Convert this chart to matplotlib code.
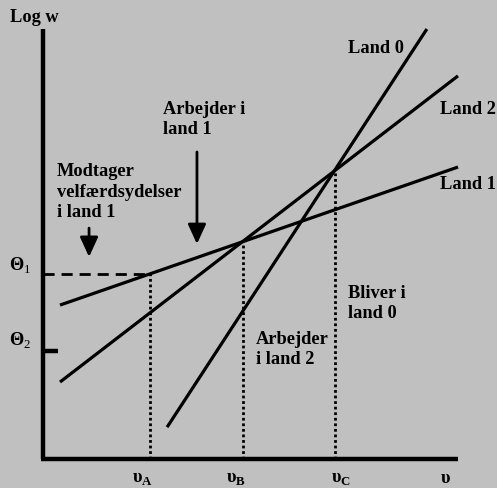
import matplotlib
matplotlib.use("Agg")
import matplotlib.pyplot as plt
import numpy as np

plt.rcParams['font.family'] = ['Liberation Serif', 'DejaVu Serif']
plt.rcParams['mathtext.fontset'] = 'custom'
plt.rcParams['mathtext.rm'] = 'Liberation Serif'
plt.rcParams['mathtext.bf'] = 'Liberation Serif:bold'

BG = '#c0c0c0'

# ---- data (abstract units: axes run 0..10) ----
line_names = ['Land 1', 'Land 2', 'Land 0']
line_x0 = [0.41, 0.41, 2.99]
line_y0 = [3.58, 1.79, 0.74]
line_x1 = [10.0, 10.0, 9.25]
line_y1 = [6.79, 8.91, 10.0]

thresholds = [2.58, 4.82, 7.04]          # vA, vB, vC
threshold_tops = [4.30, 5.05, 6.74]       # where dotted lines end
theta1 = 4.30
theta2 = 2.51

xtick_labels = ['υ$_\\mathbf{A}$', 'υ$_\\mathbf{B}$', 'υ$_\\mathbf{C}$', 'υ']
xtick_pos = [2.39, 4.65, 7.18, 9.69]

fig = plt.figure(figsize=(4.97, 4.89), dpi=100, facecolor=BG)
ax = fig.add_axes([0, 0, 1, 1])
ax.set_facecolor(BG)
ax.set_xlim(-1.036, 10.94)
ax.set_ylim(-0.674, 10.698)
ax.axis('off')

# axes lines
ax.plot([0, 0], [0, 10], color='black', lw=3.2, solid_capstyle='butt')
ax.plot([-0.04, 10], [0, 0], color='black', lw=3.2, solid_capstyle='butt')

# wage lines
for x0, y0, x1, y1 in zip(line_x0, line_y0, line_x1, line_y1):
    ax.plot([x0, x1], [y0, y1], color='black', lw=2.3, solid_capstyle='butt')

# dotted verticals
for xv, yt in zip(thresholds, threshold_tops):
    ax.plot([xv, xv], [0, yt], color='black', lw=2.0, linestyle=(0, (1, 1)))

# dashed theta1
ax.plot([0, thresholds[0]], [theta1, theta1], color='black', lw=2.0,
        linestyle=(0, (4, 2.5)))
# theta2 tick
ax.plot([0, 0.36], [theta2, theta2], color='black', lw=3.2, solid_capstyle='butt')

fs = 13.2
tk = dict(color='black', fontsize=fs, fontweight='bold')
ls = 1.25

ax.text(-0.22, 10.30, 'Log w', ha='center', va='center', **tk)
ax.text(-0.55, 4.53, 'Θ$_1$', ha='center', va='center', **tk)
ax.text(-0.55, 2.78, 'Θ$_2$', ha='center', va='center', **tk)

for lbl, xp in zip(xtick_labels, xtick_pos):
    ax.text(xp, -0.44, lbl, ha='center', va='center', **tk)

ax.text(7.35, 9.58, 'Land 0', ha='left', va='center', **tk)
ax.text(9.57, 8.14, 'Land 2', ha='left', va='center', **tk)
ax.text(9.57, 6.40, 'Land 1', ha='left', va='center', **tk)

ax.text(2.89, 7.92, 'Arbejder i\nland 1', ha='left', va='center',
        multialignment='left', linespacing=ls, **tk)
ax.text(0.34, 6.23, 'Modtager\nvelfærdsydelser\ni land 1', ha='left',
        va='center', multialignment='left', linespacing=ls, **tk)
ax.text(7.35, 3.64, 'Bliver i\nland 0', ha='left', va='center',
        multialignment='left', linespacing=ls, **tk)
ax.text(5.13, 2.57, 'Arbejder\ni land 2', ha='left', va='center',
        multialignment='left', linespacing=ls, **tk)

# arrows
arrow_kw = dict(arrowstyle='-|>,head_length=1.2,head_width=0.55', color='black',
                lw=2.0, shrinkA=0, shrinkB=0)
ax.annotate('', xy=(3.71, 5.0), xytext=(3.71, 7.14), arrowprops=arrow_kw)
ax.annotate('', xy=(1.11, 4.70), xytext=(1.11, 5.37), arrowprops=arrow_kw)

fig.savefig('out.png', dpi=100, facecolor=BG)
